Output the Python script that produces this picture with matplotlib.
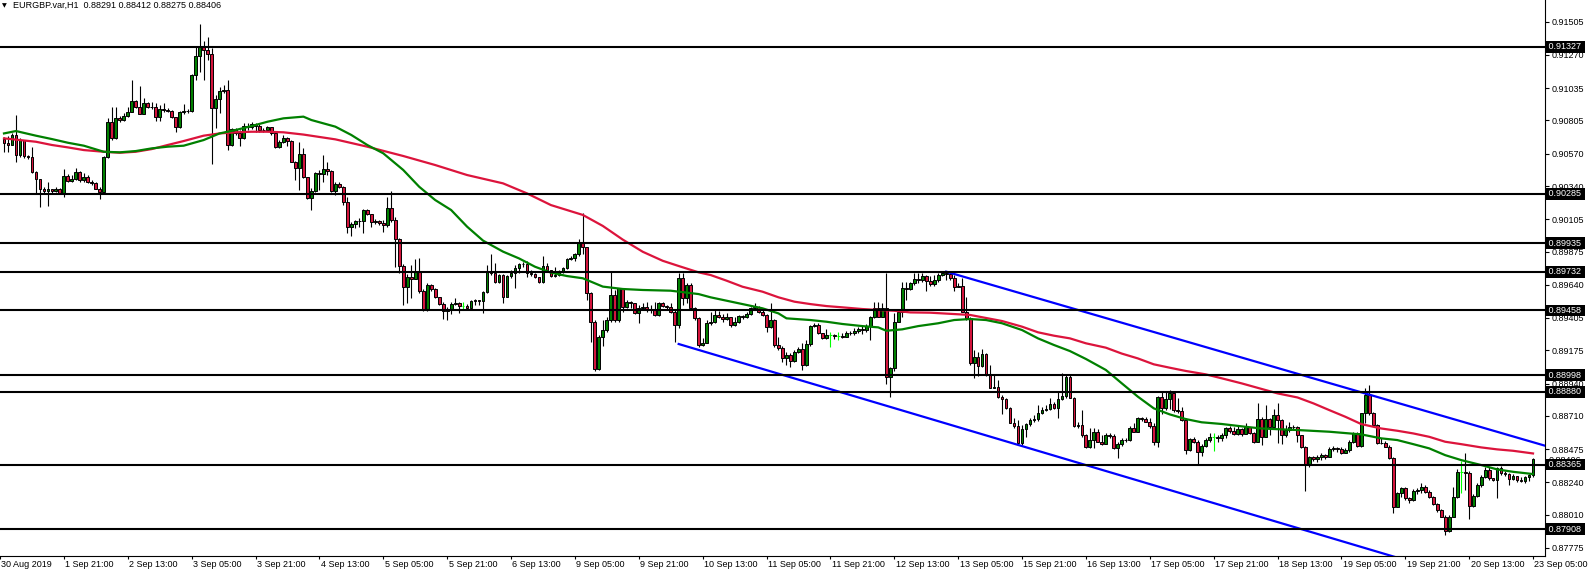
import matplotlib
matplotlib.use("Agg")
import matplotlib.pyplot as plt
import matplotlib.transforms as mtransforms
import numpy as np

plt.rcParams['font.family'] = ['Liberation Sans', 'DejaVu Sans']

# EURGBP H1 - prices in points (1 point = 0.00001)
PT = 1e5
title_text = "EURGBP.var,H1  0.88291 0.88412 0.88275 0.88406"

first_open = 90671
closes = [
    90648, 90631, 90702, 90560, 90666, 90553, 90544, 90442, 90388, 90317,
    90307, 90317, 90307, 90319, 90293, 90411, 90376, 90392, 90440, 90383,
    90406, 90366, 90359, 90321, 90295, 90544, 90792, 90678, 90820, 90808,
    90837, 90867, 90942, 90902, 90850, 90926, 90897, 90900, 90832, 90883,
    90879, 90872, 90827, 90756, 90862, 90874, 90872, 91127, 91261, 91328,
    91302, 91273, 90890, 90954, 91013, 91020, 90631, 90742, 90713, 90678,
    90765, 90756, 90779, 90768, 90737, 90740, 90756, 90713, 90614, 90654,
    90683, 90659, 90513, 90465, 90565, 90402, 90253, 90305, 90430, 90425,
    90458, 90449, 90305, 90352, 90335, 90229, 90052, 90068, 90092, 90094,
    90170, 90142, 90087, 90090, 90080, 90064, 90182, 90099, 89962, 89773,
    89627, 89697, 89678, 89730, 89598, 89461, 89638, 89608, 89551, 89504,
    89456, 89471, 89501, 89508, 89489, 89489, 89473, 89525, 89530, 89523,
    89589, 89733, 89726, 89662, 89709, 89556, 89702, 89721, 89756, 89787,
    89790, 89721, 89716, 89693, 89660, 89775, 89745, 89702, 89709, 89733,
    89756, 89820, 89827, 89856, 89934, 89905, 89584, 89378, 89040, 89272,
    89319, 89390, 89567, 89390, 89614, 89484, 89520, 89508, 89437, 89473,
    89484, 89461, 89465, 89425, 89513, 89489, 89484, 89444, 89354, 89685,
    89543, 89638, 89473, 89402, 89213, 89224, 89371, 89378, 89425, 89414,
    89395, 89409, 89354, 89378, 89418, 89414, 89433, 89473, 89484, 89449,
    89425, 89338, 89390, 89213, 89189, 89118, 89142, 89102, 89165, 89182,
    89071, 89217, 89347, 89354, 89295, 89260, 89284, 89284, 89279, 89279,
    89272, 89295, 89300, 89314, 89324, 89319, 89347, 89409, 89473, 89414,
    89473, 88988, 89047, 89378, 89449, 89614, 89610, 89650, 89678, 89673,
    89705, 89667, 89643, 89674, 89709, 89721, 89717, 89686, 89627, 89630,
    89449, 89402, 89083, 89130, 89066, 89147, 89000, 88911, 88918, 88847,
    88830, 88769, 88662, 88641, 88516, 88617, 88651, 88681, 88688, 88729,
    88752, 88757, 88792, 88769, 88830, 88854, 88989, 88840, 88641, 88646,
    88575, 88492, 88540, 88599, 88528, 88509, 88575, 88570, 88480, 88509,
    88540, 88537, 88627, 88599, 88693, 88690, 88669, 88641, 88528, 88847,
    88764, 88830, 88870, 88752, 88748, 88681, 88469, 88547, 88523, 88457,
    88499, 88540, 88563, 88563, 88551, 88575, 88627, 88603, 88581, 88614,
    88581, 88629, 88591, 88527, 88685, 88562, 88685, 88633, 88716, 88681,
    88574, 88610, 88629, 88633, 88574, 88492, 88362, 88416, 88402, 88421,
    88432, 88416, 88473, 88480, 88477, 88449, 88468, 88527, 88586, 88496,
    88728, 88858, 88728, 88645, 88520, 88517, 88492, 88409, 88061, 88161,
    88196, 88125, 88113, 88180, 88184, 88203, 88173, 88132, 88085, 88043,
    87995, 87896, 87995, 88137, 88314, 88314, 88302, 88071, 88142, 88220,
    88279, 88326, 88267, 88255, 88343, 88302, 88298, 88260, 88284, 88255,
    88250, 88274, 88291, 88406,
]
highs = [
    90685, 90695, 90714, 90844, 90678, 90666, 90560, 90619, 90449, 90388,
    90331, 90371, 90321, 90331, 90324, 90461, 90425, 90416, 90466, 90447,
    90430, 90416, 90383, 90369, 90331, 90553, 90820, 90903, 90903, 90837,
    90855, 90903, 91091, 90949, 91051, 90961, 90933, 90938, 90926, 90914,
    90926, 90895, 90879, 90832, 90872, 90919, 90883, 91131, 91328, 91486,
    91368, 91399, 91316, 90985, 91044, 91056, 91091, 90754, 90749, 90737,
    90784, 90784, 90791, 90784, 90777, 90749, 90765, 90761, 90721, 90666,
    90702, 90690, 90666, 90520, 90654, 90612, 90407, 90324, 90442, 90454,
    90560, 90513, 90454, 90371, 90366, 90343, 90260, 90087, 90099, 90111,
    90177, 90175, 90142, 90104, 90099, 90099, 90265, 90305, 90118, 89969,
    89787, 89716, 89780, 89820, 89828, 89608, 89650, 89645, 89615, 89556,
    89520, 89480, 89520, 89544, 89520, 89520, 89504, 89532, 89537, 89532,
    89598, 89780, 89858, 89792, 89716, 89716, 89709, 89745, 89780, 89797,
    89799, 89808, 89745, 89726, 89697, 89844, 89797, 89733, 89768, 89745,
    89768, 89827, 89844, 89868, 89962, 90146, 89910, 89591, 89390, 89284,
    89390, 89414, 89733, 89603, 89614, 89567, 89532, 89527, 89508, 89496,
    89508, 89520, 89496, 89520, 89520, 89520, 89496, 89508, 89461, 89721,
    89721, 89650, 89650, 89484, 89409, 89260, 89390, 89449, 89461, 89456,
    89433, 89437, 89414, 89414, 89425, 89425, 89449, 89484, 89508, 89489,
    89461, 89433, 89508, 89395, 89272, 89206, 89165, 89158, 89177, 89201,
    89224, 89248, 89354, 89366, 89366, 89300, 89324, 89307, 89291, 89307,
    89295, 89314, 89314, 89331, 89338, 89347, 89361, 89418, 89520, 89520,
    89508, 89721, 89059, 89437, 89461, 89662, 89662, 89662, 89721, 89721,
    89726, 89709, 89705, 89709, 89721, 89738, 89738, 89733, 89709, 89650,
    89686, 89556, 89414, 89177, 89166, 89185, 89154, 89071, 89005, 88965,
    88859, 88835, 88776, 88693, 88681, 88646, 88658, 88693, 88717, 88788,
    88776, 88788, 88835, 88811, 88877, 89012, 89000, 89000, 88847, 88669,
    88752, 88580, 88622, 88622, 88617, 88575, 88587, 88587, 88580, 88523,
    88551, 88556, 88641, 88658, 88705, 88705, 88705, 88693, 88658, 88854,
    88877, 88877, 88894, 88887, 88835, 88776, 88693, 88556, 88563, 88540,
    88509, 88551, 88587, 88587, 88575, 88587, 88634, 88641, 88633, 88645,
    88621, 88657, 88633, 88598, 88799, 88704, 88787, 88692, 88756, 88799,
    88685, 88645, 88669, 88645, 88638, 88574, 88496, 88425, 88425, 88432,
    88444, 88440, 88487, 88496, 88492, 88487, 88480, 88539, 88598, 88598,
    88733, 88905, 88929, 88740, 88652, 88551, 88534, 88503, 88421, 88173,
    88203, 88203, 88137, 88189, 88196, 88232, 88220, 88184, 88142, 88095,
    88047, 88007, 88007, 88208, 88331, 88392, 88444, 88321, 88156, 88232,
    88291, 88345, 88345, 88270, 88350, 88355, 88320, 88307, 88300, 88284,
    88280, 88284, 88300, 88412,
]
lows = [
    90584, 90584, 90643, 90513, 90548, 90536, 90529, 90435, 90288, 90194,
    90288, 90199, 90293, 90298, 90284, 90265, 90369, 90369, 90383, 90371,
    90371, 90359, 90350, 90317, 90248, 90284, 90536, 90666, 90671, 90796,
    90803, 90827, 90862, 90895, 90848, 90848, 90890, 90886, 90801, 90801,
    90867, 90862, 90820, 90725, 90749, 90850, 90857, 90862, 91091, 91150,
    91091, 91233, 90493, 90749, 90855, 90997, 90595, 90626, 90702, 90626,
    90673, 90737, 90744, 90725, 90725, 90721, 90730, 90702, 90607, 90612,
    90643, 90626, 90508, 90383, 90312, 90395, 90248, 90170, 90300, 90312,
    90371, 90418, 90300, 90276, 90324, 90206, 90005, 89986, 90040, 90047,
    90005, 90135, 90052, 90071, 90064, 90016, 90052, 90087, 89768, 89721,
    89497, 89508, 89544, 89678, 89579, 89456, 89456, 89598, 89544, 89497,
    89395, 89390, 89430, 89497, 89443, 89468, 89466, 89466, 89497, 89497,
    89442, 89579, 89709, 89650, 89650, 89513, 89556, 89685, 89615, 89721,
    89768, 89697, 89702, 89685, 89650, 89650, 89733, 89693, 89697, 89702,
    89721, 89749, 89816, 89811, 89844, 89858, 89532, 89237, 89031, 89036,
    89206, 89308, 89378, 89378, 89378, 89449, 89473, 89473, 89433, 89366,
    89461, 89449, 89437, 89418, 89418, 89484, 89461, 89437, 89236, 89331,
    89496, 89508, 89461, 89390, 89201, 89206, 89224, 89354, 89366, 89402,
    89378, 89390, 89338, 89347, 89366, 89395, 89402, 89425, 89461, 89437,
    89418, 89307, 89331, 89201, 89177, 89095, 89071, 89054, 89095, 89154,
    89036, 89064, 89206, 89338, 89291, 89253, 89253, 89201, 89253, 89248,
    89260, 89267, 89284, 89284, 89300, 89291, 89307, 89248, 89402, 89409,
    89409, 88936, 88842, 89031, 89378, 89409, 89532, 89603, 89638, 89655,
    89662, 89596, 89634, 89634, 89662, 89705, 89674, 89674, 89596, 89622,
    89445, 89390, 89071, 88981, 88996, 89059, 88996, 88906, 88906, 88840,
    88722, 88759, 88658, 88622, 88504, 88504, 88563, 88641, 88669, 88674,
    88722, 88745, 88752, 88759, 88698, 88823, 88840, 88835, 88634, 88627,
    88563, 88485, 88480, 88485, 88523, 88504, 88509, 88556, 88476, 88414,
    88499, 88528, 88532, 88594, 88627, 88674, 88665, 88622, 88504, 88492,
    88722, 88752, 88759, 88740, 88729, 88674, 88438, 88462, 88516, 88367,
    88429, 88492, 88528, 88462, 88528, 88532, 88556, 88587, 88574, 88574,
    88570, 88586, 88581, 88520, 88527, 88503, 88562, 88574, 88614, 88515,
    88510, 88562, 88598, 88614, 88527, 88480, 88180, 88350, 88392, 88385,
    88397, 88402, 88416, 88463, 88456, 88440, 88444, 88456, 88520, 88487,
    88492, 88657, 88716, 88638, 88510, 88510, 88487, 88402, 88019, 88061,
    88132, 88113, 88095, 88109, 88156, 88165, 88165, 88125, 88078, 88031,
    87991, 87865, 87889, 87991, 88125, 88165, 88184, 87976, 88066, 88137,
    88208, 88267, 88255, 88250, 88125, 88290, 88285, 88220, 88255, 88245,
    88240, 88232, 88246, 88275,
]

# moving averages (bar index, points)
fast_ma_bars = [0, 3, 8, 12, 16, 20, 25, 29, 33, 37, 41, 45, 50, 54, 58, 62, 66, 70, 75, 77,
                83, 87, 91, 95, 100, 104, 108, 112, 116, 120, 125, 129, 133, 137, 141, 145, 150, 155, 160, 167,
                174, 177, 181, 185, 190, 194, 196, 202, 206, 210, 215, 219, 221, 225, 229, 234, 238, 242, 246, 250,
                255, 259, 263, 267, 271, 276, 280, 284, 288, 292, 296, 300, 305, 311, 315, 324, 332, 340, 345, 349,
                353, 357, 361, 365, 370, 374, 378, 383]
fast_ma = [90713, 90730, 90697, 90673, 90647, 90626, 90583, 90579, 90588, 90607,
           90619, 90626, 90666, 90713, 90737, 90765, 90796, 90820, 90832, 90808,
           90761, 90702, 90631, 90572, 90454, 90335, 90241, 90170, 90052, 89953,
           89875, 89827, 89768, 89726, 89702, 89686, 89627, 89610, 89603, 89598,
           89574, 89551, 89527, 89503, 89473, 89437, 89402, 89390, 89378, 89362,
           89347, 89338, 89314, 89324, 89347, 89367, 89390, 89397, 89390, 89367,
           89319, 89260, 89213, 89170, 89114, 89036, 88941, 88847, 88764, 88721,
           88688, 88665, 88653, 88633, 88621, 88610, 88598, 88579, 88551, 88539,
           88510, 88480, 88432, 88397, 88362, 88331, 88314, 88298]
slow_ma_bars = [0, 4, 8, 12, 16, 20, 25, 29, 33, 37, 41, 45, 50, 54, 58, 62, 66, 70, 75, 83,
                91, 100, 108, 116, 125, 131, 137, 145, 150, 155, 160, 165, 169, 174, 177, 181, 185, 190, 194, 198,
                202, 206, 210, 215, 219, 223, 227, 232, 242, 250, 255, 259, 263, 267, 271, 276, 280, 284, 288, 292,
                296, 301, 305, 310, 319, 324, 328, 332, 336, 340, 345, 349, 353, 357, 361, 365, 370, 374, 378, 383]
slow_ma = [90678, 90666, 90654, 90631, 90614, 90595, 90583, 90576, 90583, 90602,
           90631, 90659, 90697, 90713, 90721, 90725, 90725, 90721, 90705, 90671,
           90619, 90553, 90489, 90418, 90359, 90288, 90205, 90135, 90057, 89960,
           89874, 89810, 89773, 89728, 89709, 89669, 89626, 89591, 89551, 89520,
           89503, 89489, 89480, 89468, 89461, 89456, 89444, 89442, 89426, 89383,
           89343, 89303, 89279, 89260, 89225, 89194, 89152, 89118, 89076, 89052,
           89029, 89005, 88977, 88941, 88870, 88841, 88799, 88751, 88704, 88652,
           88621, 88605, 88586, 88562, 88527, 88510, 88487, 88473, 88463, 88444]

# channel trendlines (bar index, points)
upper_bars = [236, 386]
upper_pts = [89733, 88499]
lower_bars = [169, 352]
lower_pts = [89220, 87680]

levels = [0.91327, 0.90285, 0.89935, 0.89732, 0.89458, 0.88998, 0.88880, 0.88365, 0.87908]
bid_price = 0.88406
price_ticks = [0.91505, 0.91270, 0.91035, 0.90805, 0.90570, 0.90340, 0.90105, 0.89875, 0.89640,
               0.89405, 0.89175, 0.88940, 0.88710, 0.88475, 0.88240, 0.88010, 0.87775]
time_labels = ["30 Aug 2019", "1 Sep 21:00", "2 Sep 13:00", "3 Sep 05:00", "3 Sep 21:00",
               "4 Sep 13:00", "5 Sep 05:00", "5 Sep 21:00", "6 Sep 13:00", "9 Sep 05:00",
               "9 Sep 21:00", "10 Sep 13:00", "11 Sep 05:00", "11 Sep 21:00", "12 Sep 13:00",
               "13 Sep 05:00", "15 Sep 21:00", "16 Sep 13:00", "17 Sep 05:00", "17 Sep 21:00",
               "18 Sep 13:00", "19 Sep 05:00", "19 Sep 21:00", "20 Sep 13:00", "23 Sep 05:00"]
time_label_bars = [-1 + 16 * k for k in range(len(time_labels))]

bull_col = '#008000'
bear_col = '#d3143c'
doji_col = '#00ff00'
fs = 6.5

c_pts = np.array(closes)
o_pts = np.r_[first_open, c_pts[:-1]]
c = c_pts / PT
o = o_pts / PT
h = np.maximum(np.array(highs) / PT, np.maximum(o, c))
l = np.minimum(np.array(lows) / PT, np.minimum(o, c))
x = np.arange(len(c))
up = c_pts > o_pts
dn = c_pts < o_pts
dj = c_pts == o_pts

fig = plt.figure(figsize=(15.89, 5.69), dpi=100)
ax = fig.add_axes([0, 13 / 569, 1545 / 1589, 556 / 569])

# candles
ax.vlines(x[~dj], l[~dj], h[~dj], color='black', lw=0.8, zorder=2)
ax.bar(x[up], (c - o)[up], bottom=o[up], width=0.7, color=bull_col,
       edgecolor='black', linewidth=0.7, zorder=2.2)
ax.bar(x[dn], (o - c)[dn], bottom=c[dn], width=0.7, color=bear_col,
       edgecolor='black', linewidth=0.7, zorder=2.2)
ax.vlines(x[dj], l[dj], h[dj], color=doji_col, lw=0.8, zorder=2.2)
ax.hlines(c[dj], x[dj] - 0.35, x[dj] + 0.35, color=doji_col, lw=0.8, zorder=2.2)

# moving averages
ax.plot(slow_ma_bars, np.array(slow_ma) / PT, color='#dc143c', lw=1.6, zorder=3)
ax.plot(fast_ma_bars, np.array(fast_ma) / PT, color='#008000', lw=1.6, zorder=3)

# channel
ax.plot(upper_bars, np.array(upper_pts) / PT, color='#0000ff', lw=1.6, zorder=4)
ax.plot(lower_bars, np.array(lower_pts) / PT, color='#0000ff', lw=1.6, zorder=4)

# horizontal levels
for lv in levels:
    ax.axhline(lv, color='black', lw=1.5, zorder=4)

ax.set_xlim(-0.25, 386)
ax.set_ylim(0.87717, 0.91659)

for s in ['top', 'left']:
    ax.spines[s].set_visible(False)
for s in ['right', 'bottom']:
    ax.spines[s].set_linewidth(0.8)

ax.yaxis.tick_right()
ax.set_yticks(price_ticks)
ax.set_yticklabels([f"{v:.5f}" for v in price_ticks])
ax.tick_params(axis='y', direction='out', length=3, width=0.8, pad=1.5, labelsize=fs)

ax.set_xticks(time_label_bars)
ax.set_xticklabels(time_labels)
ax.tick_params(axis='x', direction='out', length=2.5, width=0.8, pad=0.5, labelsize=fs)
shift = mtransforms.ScaledTranslation(1.0 / 72, 0, fig.dpi_scale_trans)
for lbl in ax.get_xticklabels():
    lbl.set_horizontalalignment('left')
    lbl.set_transform(lbl.get_transform() + shift)

# price labels of the levels
ax.annotate(f"{bid_price:.5f}", xy=(1, bid_price), xycoords=('axes fraction', 'data'),
            xytext=(4, -2), textcoords='offset pixels', ha='left', va='center',
            fontsize=fs, color='black', annotation_clip=False, zorder=5)
for lv in levels:
    ax.annotate(f" {lv:.5f} ", xy=(1, lv), xycoords=('axes fraction', 'data'),
                xytext=(1, 0), textcoords='offset pixels', ha='left', va='center',
                fontsize=fs, color='white', annotation_clip=False, zorder=6,
                bbox=dict(boxstyle='square,pad=0.15', fc='black', ec='none'))

# header
ax.annotate("▼", xy=(0, 1), xycoords='axes fraction', xytext=(2, -3),
            textcoords='offset pixels', ha='left', va='top', fontsize=4.5,
            family=['DejaVu Sans'], color='black')
ax.annotate(title_text, xy=(0, 1), xycoords='axes fraction', xytext=(13, -1),
            textcoords='offset pixels', ha='left', va='top', fontsize=fs, color='black')

fig.savefig('out.png', dpi=100)
